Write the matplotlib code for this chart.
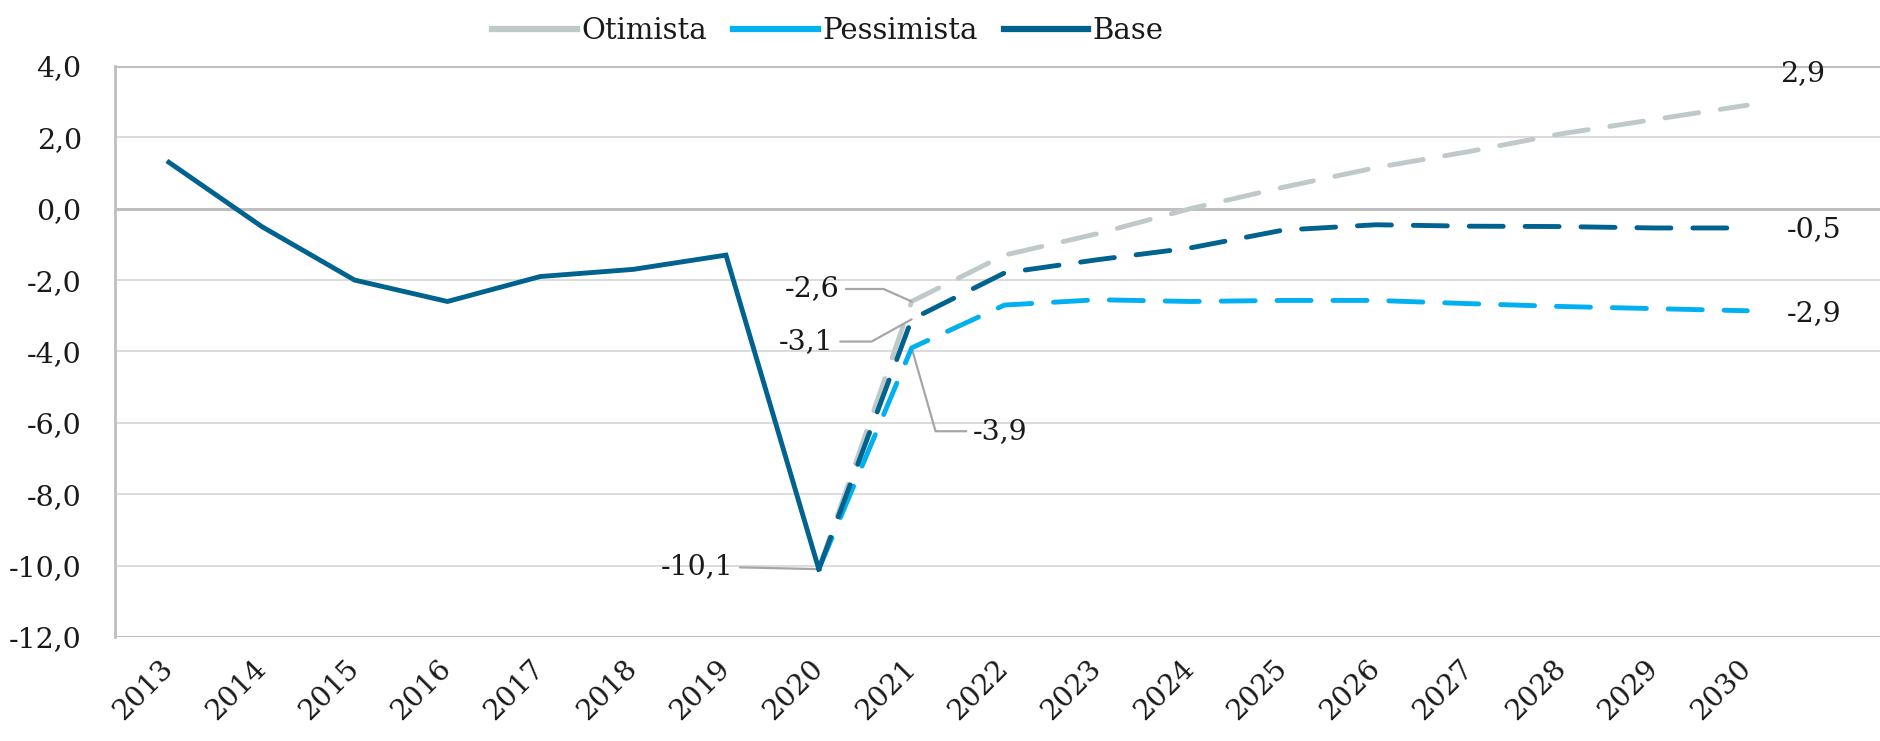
import matplotlib
matplotlib.use("Agg")
import matplotlib.pyplot as plt
from matplotlib.lines import Line2D

# dados
anos_hist = [2013, 2014, 2015, 2016, 2017, 2018, 2019, 2020]
base_hist = [1.3, -0.5, -2.0, -2.6, -1.9, -1.7, -1.3, -10.1]

anos_proj = [2020, 2021, 2022, 2023, 2024, 2025, 2026, 2027, 2028, 2029, 2030]
otimista = [-10.1, -2.6, -1.3, -0.7, 0.0, 0.6, 1.15, 1.6, 2.1, 2.5, 2.9]
pessimista = [-10.1, -3.9, -2.7, -2.55, -2.6, -2.57, -2.57, -2.66, -2.74, -2.8, -2.86]
base_proj = [-10.1, -3.1, -1.8, -1.43, -1.1, -0.6, -0.45, -0.49, -0.5, -0.54, -0.54]

anos = list(range(2013, 2031))
y_ticks = [4, 2, 0, -2, -4, -6, -8, -10, -12]
series = ["Otimista", "Pessimista", "Base"]

cor_otim = "#BFC9CA"
cor_pess = "#00B0F0"
cor_base = "#00628F"
cores = [cor_otim, cor_pess, cor_base]
cor_texto = "#1a1a1a"
cor_guia = "#A6A6A6"

plt.rcParams["font.family"] = ["DejaVu Serif"]
fs = 20.5

def fmt(v):
    return f"{v:.1f}".replace(".", ",")

fig = plt.figure(figsize=(18.8, 7.41), dpi=100)
ax = fig.add_axes([0.0612, 0.1404, 1 - 0.0612, 0.7706])

lw = 3.5
tracos = (7, 4.5)
ax.plot(anos_proj, otimista, color=cor_otim, lw=lw, dashes=tracos,
        dash_capstyle="round", zorder=3)
ax.plot(anos_proj, pessimista, color=cor_pess, lw=lw, dashes=tracos,
        dash_capstyle="round", zorder=4)
ax.plot(anos_proj, base_proj, color=cor_base, lw=lw, dashes=tracos,
        dash_capstyle="round", zorder=5)
ax.plot(anos_hist, base_hist, color=cor_base, lw=lw, solid_joinstyle="miter",
        zorder=5)

ax.set_xlim(2012.42, 2031.43)
ax.set_ylim(-12, 4)
ax.set_yticks(y_ticks)
ax.set_yticklabels([fmt(v) for v in y_ticks])
ax.set_xticks(anos)
ax.set_xticklabels([str(a) for a in anos], rotation=45, ha="right",
                   va="center", rotation_mode="anchor")
ax.tick_params(axis="both", length=0, labelsize=fs, colors=cor_texto)
ax.tick_params(axis="y", pad=24)
ax.tick_params(axis="x", pad=20)

# grade
for v in y_ticks:
    if v in (4, 0, -12):
        ax.axhline(v, color="#BFBFBF", lw=2.2, zorder=1)
    else:
        ax.axhline(v, color="#D9D9D9", lw=1.3, zorder=1)
for s in ["top", "right", "bottom"]:
    ax.spines[s].set_visible(False)
ax.spines["left"].set_color("#BFBFBF")
ax.spines["left"].set_linewidth(2.0)

# rótulos com linhas guia
def rotulo(x, y, dx, dy, estilo):
    ax.annotate(fmt(y), xy=(x, y), xytext=(dx, dy), textcoords="offset points",
                ha="center", va="center", fontsize=fs, color=cor_texto,
                arrowprops=dict(arrowstyle="-", color=cor_guia, lw=1.6,
                                shrinkA=3, shrinkB=0, connectionstyle=estilo))

rotulo(2021, otimista[1], -72, 9, "angle,angleA=0,angleB=156,rad=0")
rotulo(2021, base_proj[1], -76, -16, "angle,angleA=0,angleB=209,rad=0")
rotulo(2021, pessimista[1], 64, -60, "angle,angleA=180,angleB=286,rad=0")
rotulo(2020, base_hist[-1], -88, 2, "arc3,rad=0")

# rótulos finais
for serie, dx, dy in [(otimista, 40, 23), (base_proj, 48, -1), (pessimista, 48, -2)]:
    ax.annotate(fmt(serie[-1]), xy=(anos_proj[-1], serie[-1]), xytext=(dx, dy),
                textcoords="offset points", ha="center", va="center",
                fontsize=fs, color=cor_texto)

alcas = [Line2D([], [], color=c, lw=4.5) for c in cores]
ax.legend(alcas, series, loc="center", bbox_to_anchor=(0.4404, 0.958),
          bbox_transform=fig.transFigure, ncol=3, frameon=False,
          fontsize=21, handlelength=2.9, handletextpad=0.15,
          columnspacing=0.9, labelcolor=cor_texto)

fig.savefig("out.png", dpi=100)
